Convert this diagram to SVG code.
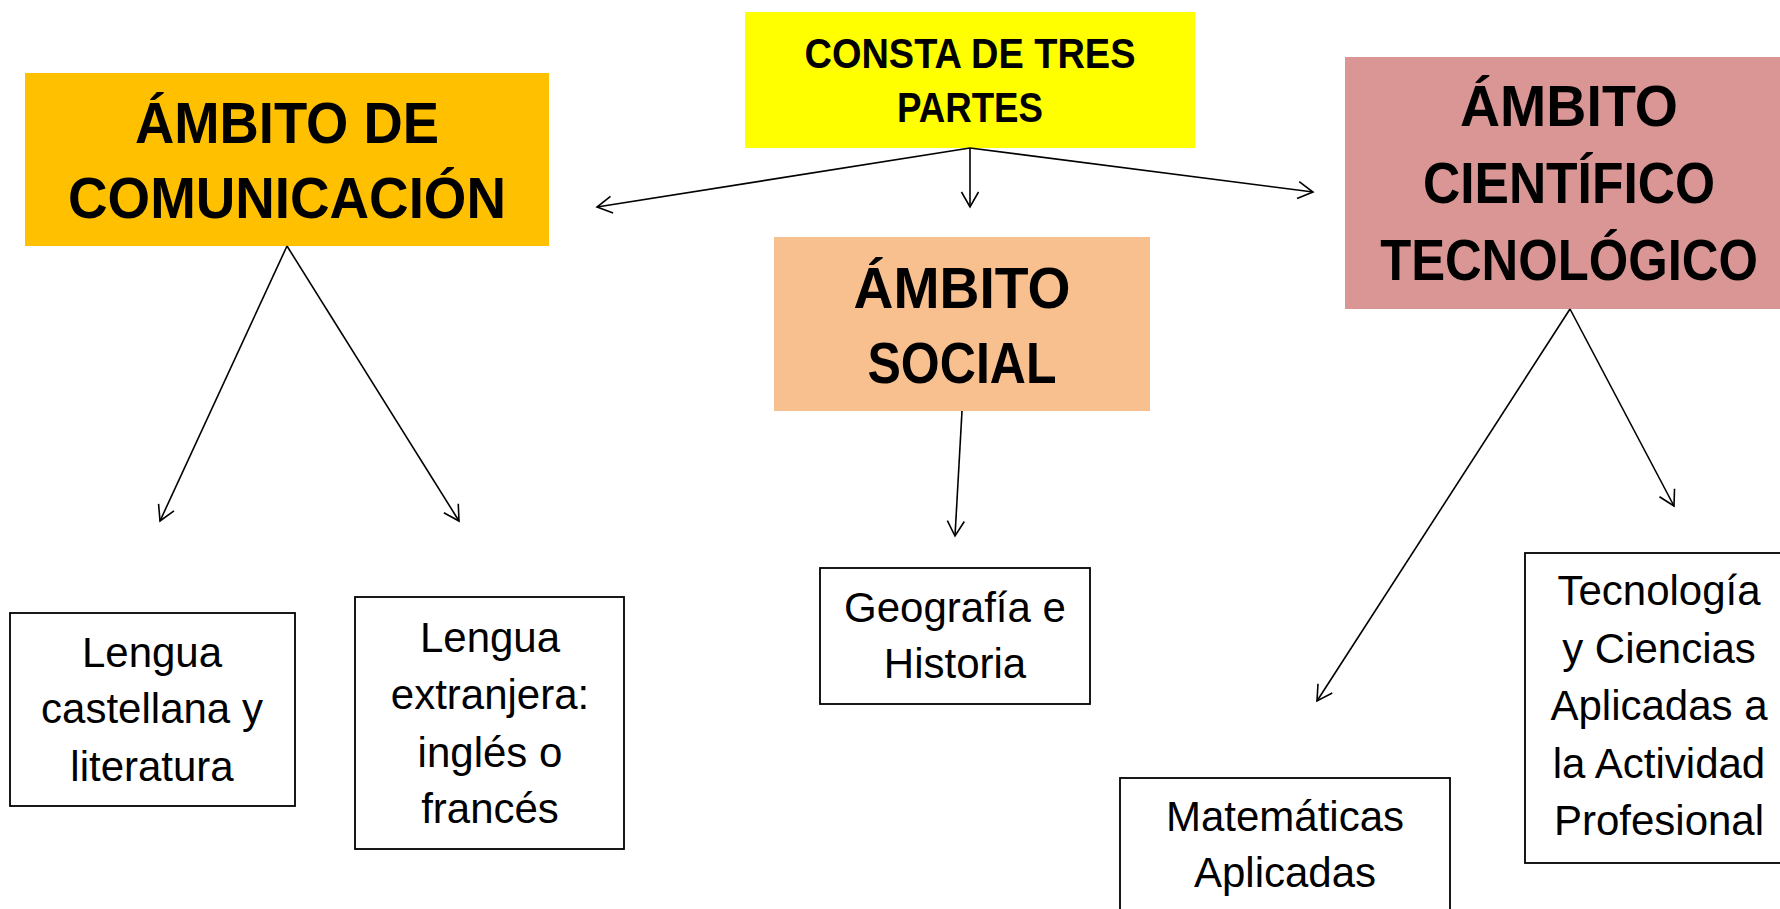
<svg xmlns="http://www.w3.org/2000/svg" width="1780" height="909" viewBox="0 0 1780 909">
<style>
.title{font-family:"Liberation Sans",Arial,sans-serif;font-weight:bold;fill:#000;text-anchor:middle}
.t1{font-size:58px}
.t2{font-size:42px}
.leaf{font-family:"Liberation Sans",Arial,sans-serif;font-size:42px;fill:#000;text-anchor:middle}
.box{fill:#fff;stroke:#000;stroke-width:1.8}
.conn line{stroke:#000;stroke-width:1.6;fill:none}
</style>
<defs>
<marker id="arr" markerUnits="userSpaceOnUse" markerWidth="20" markerHeight="20" viewBox="0 0 20 20" refX="18" refY="10" orient="auto">
<path d="M3,1.5 L18,10 L3,18.5" fill="none" stroke="#000" stroke-width="1.6"/>
</marker>
</defs>
<rect width="1780" height="909" fill="#fff"/>

<g id="constaPartes">
<rect x="745" y="12" width="450" height="136" fill="#FFFF00"/>
<text class="title t2" x="970" y="68" textLength="331" lengthAdjust="spacingAndGlyphs">CONSTA DE TRES</text>
<text class="title t2" x="970" y="122" textLength="146" lengthAdjust="spacingAndGlyphs">PARTES</text>
</g>

<g id="ambitoComunicacion">
<rect x="25" y="73" width="524" height="173" fill="#FFC000"/>
<text class="title t1" x="287" y="143" textLength="304" lengthAdjust="spacingAndGlyphs">ÁMBITO DE</text>
<text class="title t1" x="287" y="218" textLength="438" lengthAdjust="spacingAndGlyphs">COMUNICACIÓN</text>
</g>

<g id="ambitoSocial">
<rect x="774" y="237" width="376" height="174" fill="#F9C08F"/>
<text class="title t1" x="962" y="308" textLength="217" lengthAdjust="spacingAndGlyphs">ÁMBITO</text>
<text class="title t1" x="962" y="383" textLength="189" lengthAdjust="spacingAndGlyphs">SOCIAL</text>
</g>

<g id="ambitoCientifico">
<rect x="1345" y="57" width="435" height="252" fill="#D99694"/>
<text class="title t1" x="1569" y="126" textLength="218" lengthAdjust="spacingAndGlyphs">ÁMBITO</text>
<text class="title t1" x="1569" y="203" textLength="292" lengthAdjust="spacingAndGlyphs">CIENTÍFICO</text>
<text class="title t1" transform="translate(1569,280) scale(0.875,1)" x="0" y="0">TECNOLÓGICO</text>
</g>

<g id="lenguaCastellana">
<rect class="box" x="10" y="613" width="285" height="193"/>
<text class="leaf" x="152" y="667">Lengua</text>
<text class="leaf" x="152" y="723">castellana y</text>
<text class="leaf" x="152" y="781">literatura</text>
</g>

<g id="lenguaExtranjera">
<rect class="box" x="355" y="597" width="269" height="252"/>
<text class="leaf" x="490" y="652">Lengua</text>
<text class="leaf" x="490" y="709">extranjera:</text>
<text class="leaf" x="490" y="767">inglés o</text>
<text class="leaf" x="490" y="823">francés</text>
</g>

<g id="geografia">
<rect class="box" x="820" y="568" width="270" height="136"/>
<text class="leaf" x="955" y="622">Geografía e</text>
<text class="leaf" x="955" y="678">Historia</text>
</g>

<g id="matematicas">
<rect class="box" x="1120" y="778" width="330" height="150"/>
<text class="leaf" x="1285" y="831">Matemáticas</text>
<text class="leaf" x="1285" y="887">Aplicadas</text>
</g>

<g id="tecnologia">
<rect class="box" x="1525" y="553" width="270" height="310"/>
<text class="leaf" x="1659" y="605">Tecnología</text>
<text class="leaf" x="1659" y="663">y Ciencias</text>
<text class="leaf" x="1659" y="720">Aplicadas a</text>
<text class="leaf" x="1659" y="778">la Actividad</text>
<text class="leaf" x="1659" y="835">Profesional</text>
</g>

<g id="connectors" class="conn">
<line x1="970" y1="148" x2="597" y2="207" marker-end="url(#arr)"/>
<line x1="970" y1="148" x2="970" y2="207" marker-end="url(#arr)"/>
<line x1="970" y1="148" x2="1313" y2="192" marker-end="url(#arr)"/>
<line x1="287" y1="246" x2="160" y2="521" marker-end="url(#arr)"/>
<line x1="287" y1="246" x2="459" y2="521" marker-end="url(#arr)"/>
<line x1="962" y1="411" x2="955" y2="536" marker-end="url(#arr)"/>
<line x1="1570" y1="309" x2="1317" y2="701" marker-end="url(#arr)"/>
<line x1="1570" y1="309" x2="1674" y2="506" marker-end="url(#arr)"/>
</g>
</svg>
